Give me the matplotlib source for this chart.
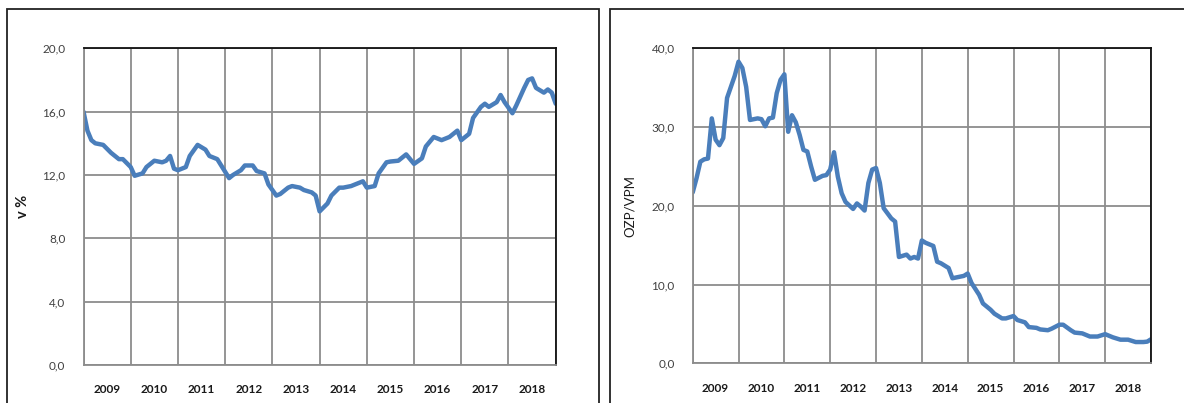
import numpy as np
import matplotlib
matplotlib.use('Agg')
import matplotlib.pyplot as plt
from matplotlib.patches import Rectangle
from matplotlib.ticker import FixedLocator, NullFormatter

# monthly observations, month 0 = start of 2009
left_months = [0, 1, 2, 3, 5, 7, 9, 10, 12, 13, 15, 16, 18, 20, 21, 22, 23, 24, 26, 27,
               29, 31, 32, 34, 35, 37, 38, 40, 41, 43, 44, 46, 47, 49, 50, 52, 53, 55, 56, 58,
               59, 60, 62, 63, 65, 66, 68, 69, 71, 72, 74, 75, 77, 78, 80, 82, 84, 86, 87, 89,
               91, 93, 95, 96, 98, 99, 101, 102, 103, 105, 106, 107, 109, 110, 112, 113, 114, 115, 117, 118,
               119, 120]
left_vals = [16.0, 14.8, 14.2, 14.0, 13.9, 13.4, 13.0, 13.0, 12.5, 11.95, 12.1, 12.5, 12.9, 12.8, 12.9, 13.2, 12.4, 12.3, 12.5, 13.2,
             13.9, 13.6, 13.2, 13.0, 12.6, 11.8, 12.0, 12.3, 12.6, 12.6, 12.25, 12.1, 11.4, 10.7, 10.8, 11.2, 11.3, 11.2, 11.05, 10.9,
             10.7, 9.7, 10.2, 10.7, 11.2, 11.2, 11.3, 11.4, 11.6, 11.2, 11.3, 12.1, 12.8, 12.85, 12.9, 13.3, 12.7, 13.05, 13.8, 14.4,
             14.2, 14.4, 14.8, 14.2, 14.6, 15.6, 16.3, 16.5, 16.3, 16.6, 17.05, 16.6, 15.9, 16.4, 17.5, 18.0, 18.1, 17.5, 17.2, 17.4,
             17.2, 16.5]

right_months = [0, 1, 2, 3, 4, 5, 6, 7, 8, 9, 10, 11, 12, 13, 14, 15, 16, 17, 18, 19,
                20, 21, 22, 23, 24, 25, 26, 27, 28, 29, 30, 31, 32, 34, 35, 36, 37, 38, 39, 40,
                42, 43, 44, 45, 46, 47, 48, 49, 50, 52, 53, 54, 56, 57, 58, 59, 60, 61, 63, 64,
                65, 67, 68, 70, 71, 72, 73, 75, 76, 78, 79, 81, 82, 84, 85, 87, 88, 90, 91, 93,
                94, 96, 97, 99, 100, 102, 104, 106, 108, 110, 112, 114, 116, 118, 119, 120]
right_vals = [21.7, 23.5, 25.6, 25.9, 26.0, 31.1, 28.4, 27.7, 28.6, 33.7, 35.1, 36.5, 38.3, 37.5, 35.1, 30.9, 31.0, 31.1, 31.0, 30.1,
              31.1, 31.2, 34.3, 36.0, 36.7, 29.4, 31.5, 30.6, 29.0, 27.1, 26.9, 25.0, 23.3, 23.8, 23.9, 24.6, 26.8, 23.7, 21.6, 20.5,
              19.6, 20.3, 19.9, 19.4, 22.9, 24.6, 24.8, 22.9, 19.7, 18.4, 18.0, 13.5, 13.8, 13.3, 13.5, 13.3, 15.6, 15.3, 14.9, 12.9,
              12.7, 12.1, 10.8, 11.0, 11.1, 11.4, 10.2, 8.7, 7.6, 6.8, 6.3, 5.7, 5.7, 6.0, 5.5, 5.2, 4.6, 4.5, 4.3, 4.2,
              4.4, 4.9, 4.9, 4.2, 3.9, 3.8, 3.4, 3.4, 3.7, 3.3, 3.0, 3.0, 2.7, 2.7, 2.75, 3.05]

years = ['2009', '2010', '2011', '2012', '2013', '2014', '2015', '2016', '2017', '2018']

W, H = 1184, 403
fig = plt.figure(figsize=(W / 100, H / 100), dpi=100)
plt.rcParams['font.family'] = ['Lato', 'DejaVu Sans']

line_col = '#4a7ebb'
grid_col = '#8c8c8c'
lab_col = '#404040'

# outer frames around each chart
fig.patches.append(Rectangle((7 / W, -0.1), 592 / W, 1.1 - 9 / H, transform=fig.transFigure,
                             fill=False, edgecolor='#222222', linewidth=1.3))
fig.patches.append(Rectangle((610 / W, -0.1), 0.6, 1.1 - 9 / H, transform=fig.transFigure,
                             fill=False, edgecolor='#222222', linewidth=1.3))


def setup(ax, ymax, ystep, ylabel, bold_label, lsize, lpad):
    ax.set_xlim(0, 120)
    ax.set_ylim(0, ymax)
    ax.xaxis.set_major_locator(FixedLocator(np.arange(0, 121, 12)))
    ax.xaxis.set_major_formatter(NullFormatter())
    ax.xaxis.set_minor_locator(FixedLocator(np.arange(6, 120, 12)))
    ax.set_xticklabels(years, minor=True)
    ax.set_yticks(np.arange(0, ymax + 0.1, ystep))
    ax.set_yticklabels([('%.1f' % v).replace('.', ',') for v in np.arange(0, ymax + 0.1, ystep)])
    ax.tick_params(axis='x', which='both', length=0, pad=14)
    ax.tick_params(axis='x', which='minor', labelsize=8.5, labelcolor='#1a1a1a')
    for t in ax.get_xticklabels(minor=True):
        t.set_fontweight('bold')
    ax.tick_params(axis='y', length=0, pad=13, labelsize=8.5, labelcolor=lab_col)
    ax.grid(True, which='major', color=grid_col, linewidth=1.3)
    ax.set_axisbelow(True)
    for s in ['left', 'bottom']:
        ax.spines[s].set_color(grid_col)
        ax.spines[s].set_linewidth(1.3)
    for s in ['top', 'right']:
        ax.spines[s].set_color('#111111')
        ax.spines[s].set_linewidth(1.3)
    ax.set_ylabel(ylabel, fontsize=lsize, color='#1a1a1a',
                  fontweight='bold' if bold_label else 'normal', labelpad=lpad)


ax1 = fig.add_axes([83.5 / W, 1 - 365 / H, (555.7 - 83.5) / W, (365 - 48.3) / H])
ax1.plot(left_months, left_vals, color=line_col, linewidth=3.2,
         solid_joinstyle='round', solid_capstyle='round')
setup(ax1, 20, 4, 'v %', True, 10.5, 9)

ax2 = fig.add_axes([692.7 / W, 1 - 363.3 / H, (1151 - 692.7) / W, (363.3 - 48.3) / H])
ax2.plot(right_months, right_vals, color=line_col, linewidth=3.2,
         solid_joinstyle='round', solid_capstyle='round')
setup(ax2, 40, 10, 'OZP/VPM', False, 9.5, 11)

fig.savefig('out.png', dpi=100)
